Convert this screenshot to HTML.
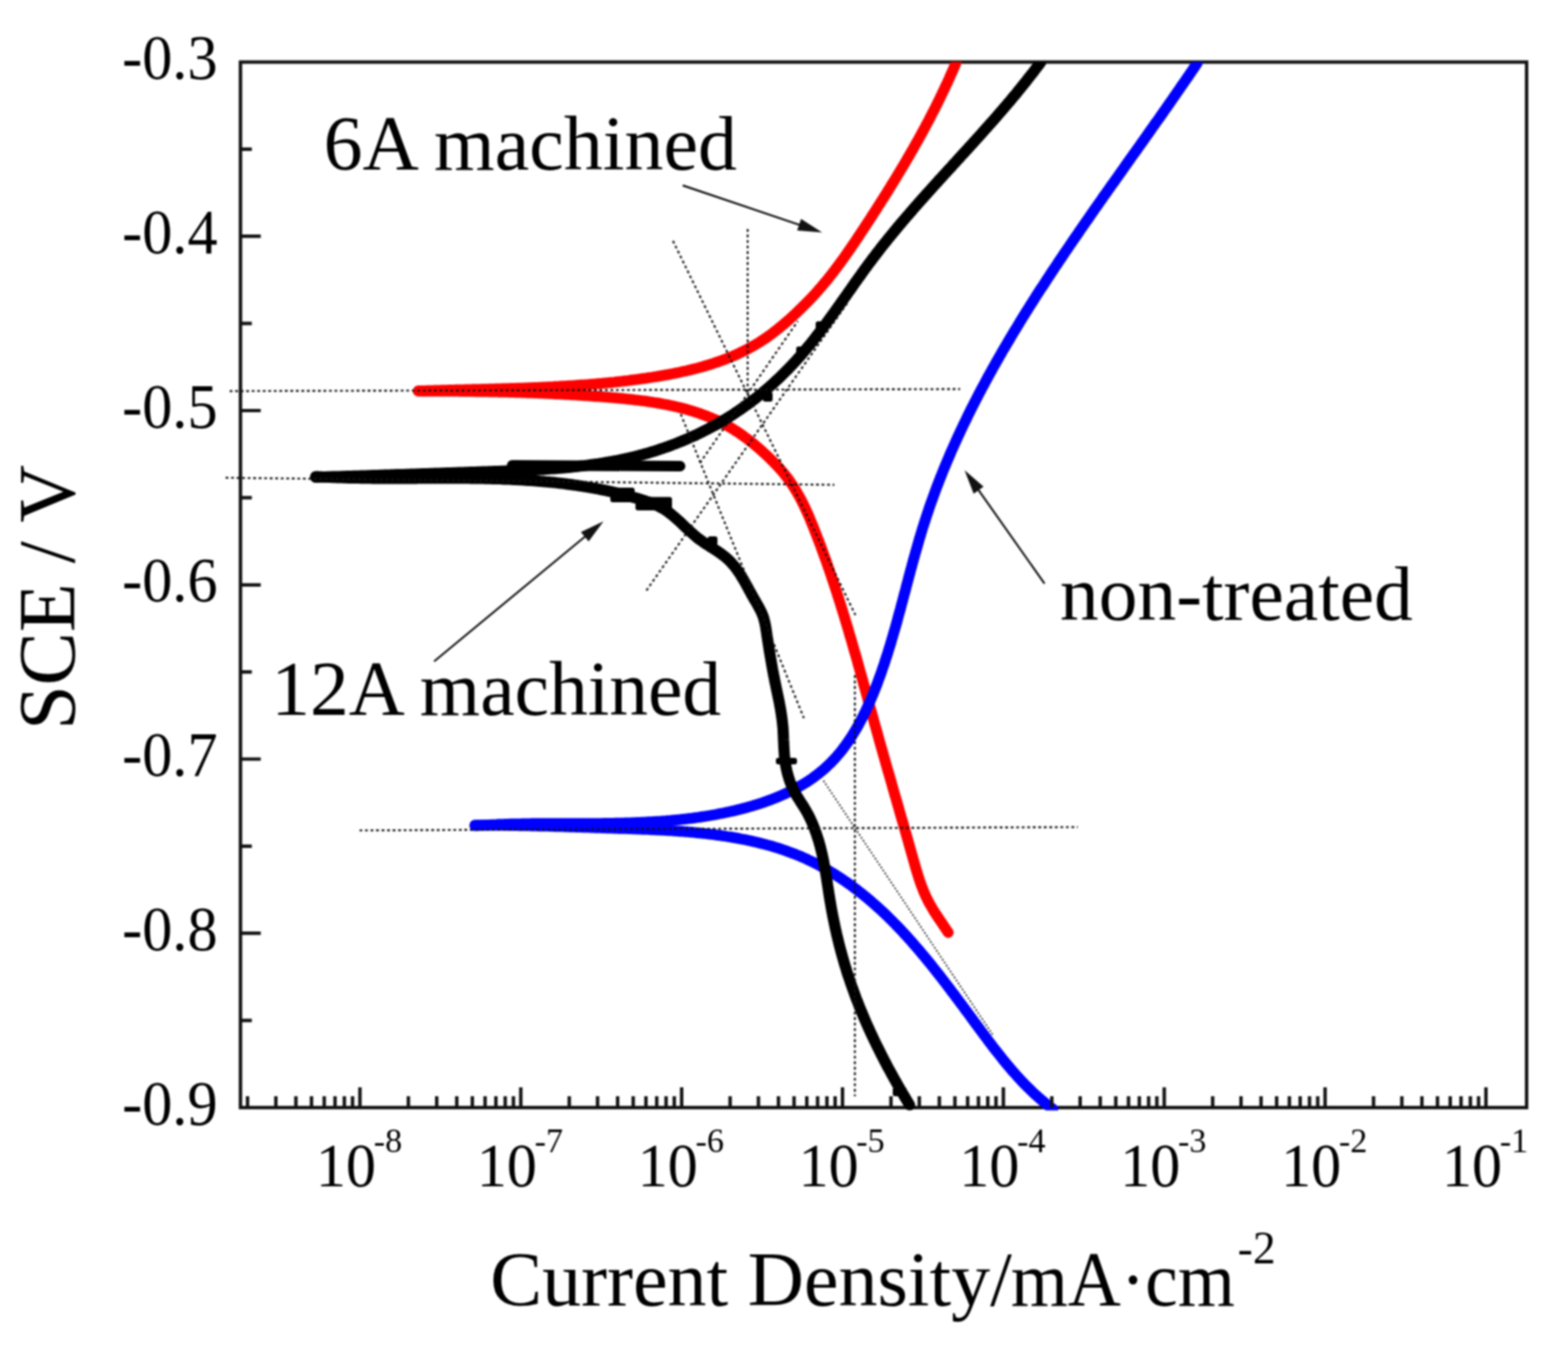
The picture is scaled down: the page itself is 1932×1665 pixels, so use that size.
<!DOCTYPE html><html><head><meta charset="utf-8"><style>html,body{margin:0;padding:0;background:#fff;overflow:hidden}svg{display:block}#w{filter:blur(0.8px)}</style></head><body><div id="w"><svg width="1932" height="1665" viewBox="0 0 1932 1665">
<rect width="100%" height="100%" fill="#fff"/>
<defs><clipPath id="pc"><rect x="296.3" y="76.5" width="1584.7" height="1292.0"/></clipPath></defs>
<rect x="296.3" y="76.5" width="1584.7" height="1288.5" fill="none" stroke="#111" stroke-width="4.2"/>
<g clip-path="url(#pc)" fill="none" stroke-linecap="round" stroke-linejoin="round">
<path d="M515.5,481.9 L518.4,481.8 L521.3,481.7 L524.2,481.6 L527.1,481.5 L530.0,481.4 L533.0,481.3 L535.9,481.2 L538.8,481.2 L541.7,481.1 L544.6,481.0 L547.5,480.9 L550.4,480.8 L553.4,480.7 L556.3,480.7 L559.2,480.6 L562.1,480.5 L565.0,480.4 L567.9,480.4 L570.8,480.3 L573.7,480.2 L576.7,480.1 L579.6,480.1 L582.5,480.0 L585.4,479.9 L588.3,479.8 L591.2,479.8 L594.1,479.7 L597.0,479.6 L599.9,479.6 L602.9,479.5 L605.8,479.4 L608.7,479.3 L611.6,479.2 L614.5,479.2 L617.4,479.1 L620.3,479.0 L623.2,478.9 L626.1,478.8 L629.0,478.7 L631.9,478.6 L634.9,478.6 L637.8,478.5 L640.7,478.4 L643.6,478.3 L646.5,478.2 L649.4,478.1 L652.3,477.9 L655.2,477.8 L658.1,477.7 L661.0,477.6 L663.9,477.5 L666.8,477.3 L669.7,477.2 L672.6,477.1 L675.5,476.9 L678.4,476.8 L681.4,476.7 L684.3,476.5 L687.2,476.4 L690.1,476.2 L693.0,476.0 L695.9,475.9 L698.8,475.7 L701.7,475.5 L704.6,475.3 L707.5,475.1 L710.4,474.9 L713.3,474.7 L716.2,474.5 L719.1,474.3 L722.0,474.1 L724.9,473.9 L727.8,473.6 L730.7,473.4 L733.6,473.2 L736.5,472.9 L739.4,472.6 L742.3,472.4 L745.2,472.1 L748.1,471.8 L751.0,471.5 L753.9,471.3 L756.8,471.0 L759.7,470.6 L762.6,470.3 L765.5,470.0 L768.4,469.7 L771.3,469.3 L774.2,469.0 L777.0,468.6 L779.9,468.2 L782.8,467.9 L785.7,467.5 L788.6,467.1 L791.5,466.7 L794.4,466.3 L797.3,465.9 L800.2,465.4 L803.1,465.0 L806.0,464.5 L808.9,464.1 L811.8,463.6 L814.7,463.1 L817.5,462.6 L820.4,462.1 L823.3,461.6 L826.2,461.1 L829.0,460.5 L831.9,459.9 L834.8,459.4 L837.6,458.8 L840.5,458.1 L843.4,457.5 L846.2,456.9 L849.0,456.2 L851.9,455.5 L854.7,454.8 L857.5,454.1 L860.3,453.4 L863.1,452.6 L865.9,451.8 L868.7,451.0 L871.5,450.2 L874.3,449.3 L877.0,448.5 L879.8,447.6 L882.5,446.6 L885.3,445.7 L888.0,444.7 L890.7,443.7 L893.4,442.7 L896.1,441.7 L898.8,440.6 L901.4,439.5 L904.1,438.4 L906.7,437.2 L909.3,436.0 L911.9,434.8 L914.5,433.5 L917.1,432.3 L919.7,431.0 L922.2,429.6 L924.8,428.2 L927.3,426.8 L929.8,425.4 L932.3,423.9 L934.8,422.4 L937.2,420.9 L939.6,419.3 L942.1,417.7 L944.5,416.0 L946.8,414.3 L949.2,412.6 L951.6,410.9 L953.9,409.1 L956.2,407.3 L958.5,405.5 L960.8,403.6 L963.1,401.8 L965.3,399.9 L967.6,398.0 L969.8,396.0 L972.0,394.1 L974.2,392.1 L976.4,390.1 L978.5,388.1 L980.7,386.1 L982.8,384.1 L984.9,382.0 L987.1,380.0 L989.1,377.9 L991.2,375.9 L993.3,373.8 L995.4,371.7 L997.4,369.6 L999.4,367.5 L1001.4,365.4 L1003.4,363.2 L1005.3,361.1 L1007.3,358.9 L1009.2,356.7 L1011.1,354.5 L1013.0,352.3 L1014.8,350.1 L1016.7,347.9 L1018.5,345.7 L1020.4,343.4 L1022.2,341.1 L1024.0,338.9 L1025.7,336.6 L1027.5,334.3 L1029.3,332.0 L1031.0,329.7 L1032.7,327.4 L1034.5,325.1 L1036.2,322.7 L1037.9,320.4 L1039.6,318.0 L1041.2,315.7 L1042.9,313.3 L1044.6,310.9 L1046.2,308.6 L1047.9,306.2 L1049.5,303.8 L1051.1,301.4 L1052.8,299.0 L1054.4,296.6 L1056.0,294.2 L1057.6,291.8 L1059.2,289.3 L1060.8,286.9 L1062.4,284.5 L1064.0,282.1 L1065.6,279.6 L1067.2,277.2 L1068.8,274.8 L1070.4,272.3 L1072.0,269.9 L1073.6,267.5 L1075.1,265.0 L1076.7,262.6 L1078.3,260.1 L1079.9,257.7 L1081.5,255.2 L1083.0,252.7 L1084.6,250.3 L1086.1,247.8 L1087.7,245.4 L1089.3,242.9 L1090.8,240.4 L1092.4,238.0 L1093.9,235.5 L1095.4,233.0 L1097.0,230.5 L1098.5,228.0 L1100.0,225.6 L1101.6,223.1 L1103.1,220.6 L1104.6,218.1 L1106.1,215.6 L1107.6,213.1 L1109.1,210.6 L1110.6,208.1 L1112.1,205.6 L1113.6,203.1 L1115.1,200.6 L1116.6,198.0 L1118.1,195.5 L1119.5,193.0 L1121.0,190.5 L1122.4,187.9 L1123.9,185.4 L1125.3,182.9 L1126.8,180.3 L1128.2,177.8 L1129.6,175.3 L1131.1,172.7 L1132.5,170.2 L1133.9,167.6 L1135.3,165.1 L1136.7,162.5 L1138.1,159.9 L1139.5,157.4 L1140.8,154.8 L1142.2,152.2 L1143.6,149.7 L1144.9,147.1 L1146.3,144.5 L1147.6,141.9 L1148.9,139.3 L1150.3,136.8 L1151.6,134.2 L1152.9,131.6 L1154.2,129.0 L1155.5,126.4 L1156.8,123.7 L1158.1,121.1 L1159.3,118.5 L1160.6,115.9 L1161.8,113.3 L1163.1,110.7 L1164.3,108.0 L1165.5,105.4 L1166.8,102.8 L1168.0,100.1 L1169.2,97.5 L1170.4,94.8 L1171.5,92.2 L1172.7,89.5 L1173.9,86.9 L1175.0,84.2 L1176.2,81.6 L1177.3,78.9 L1178.4,76.2" stroke="#f00" stroke-width="13.3"/>
<path d="M515.3,481.9 L518.3,481.9 L521.3,482.0 L524.3,482.0 L527.2,482.0 L530.2,482.0 L533.2,482.0 L536.1,482.0 L539.1,482.0 L542.0,482.0 L545.0,482.1 L547.9,482.1 L550.9,482.1 L553.8,482.1 L556.8,482.2 L559.7,482.2 L562.7,482.2 L565.6,482.2 L568.5,482.3 L571.5,482.3 L574.4,482.3 L577.3,482.4 L580.3,482.4 L583.2,482.4 L586.1,482.5 L589.0,482.5 L592.0,482.6 L594.9,482.6 L597.8,482.7 L600.7,482.7 L603.7,482.8 L606.6,482.8 L609.5,482.9 L612.4,482.9 L615.3,483.0 L618.3,483.1 L621.2,483.1 L624.1,483.2 L627.0,483.3 L629.9,483.4 L632.8,483.4 L635.7,483.5 L638.7,483.6 L641.6,483.7 L644.5,483.8 L647.4,483.9 L650.3,484.0 L653.2,484.1 L656.1,484.2 L659.0,484.3 L662.0,484.4 L664.9,484.5 L667.8,484.7 L670.7,484.8 L673.6,484.9 L676.5,485.0 L679.4,485.2 L682.4,485.3 L685.3,485.5 L688.2,485.6 L691.1,485.7 L694.0,485.9 L696.9,486.1 L699.9,486.2 L702.8,486.4 L705.7,486.6 L708.6,486.7 L711.6,486.9 L714.5,487.1 L717.4,487.3 L720.4,487.5 L723.3,487.7 L726.2,487.9 L729.2,488.1 L732.1,488.3 L735.0,488.5 L738.0,488.7 L740.9,488.9 L743.9,489.2 L746.8,489.4 L749.7,489.6 L752.7,489.9 L755.6,490.1 L758.6,490.4 L761.6,490.7 L764.5,490.9 L767.5,491.2 L770.4,491.5 L773.4,491.8 L776.3,492.1 L779.3,492.4 L782.2,492.8 L785.2,493.1 L788.1,493.5 L791.1,493.9 L794.0,494.2 L796.9,494.6 L799.9,495.1 L802.8,495.5 L805.7,496.0 L808.6,496.4 L811.5,496.9 L814.4,497.4 L817.3,498.0 L820.2,498.5 L823.1,499.1 L826.0,499.7 L828.9,500.3 L831.7,500.9 L834.6,501.6 L837.4,502.3 L840.2,503.0 L843.1,503.7 L845.9,504.5 L848.7,505.3 L851.5,506.1 L854.2,507.0 L857.0,507.9 L859.7,508.8 L862.5,509.7 L865.2,510.7 L867.9,511.7 L870.6,512.7 L873.3,513.8 L876.0,514.9 L878.6,516.0 L881.3,517.2 L883.9,518.4 L886.5,519.7 L889.1,521.0 L891.7,522.3 L894.2,523.7 L896.8,525.1 L899.3,526.5 L901.8,528.0 L904.3,529.5 L906.7,531.1 L909.2,532.7 L911.6,534.3 L914.0,536.0 L916.4,537.7 L918.8,539.5 L921.1,541.2 L923.5,543.0 L925.8,544.8 L928.1,546.7 L930.4,548.6 L932.6,550.5 L934.9,552.4 L937.1,554.4 L939.3,556.3 L941.5,558.3 L943.7,560.3 L945.8,562.4 L948.0,564.4 L950.1,566.5 L952.2,568.6 L954.3,570.7 L956.3,572.8 L958.3,575.0 L960.3,577.1 L962.3,579.3 L964.2,581.5 L966.1,583.8 L967.9,586.1 L969.7,588.4 L971.5,590.7 L973.2,593.1 L974.8,595.5 L976.5,597.9 L978.0,600.3 L979.6,602.8 L981.1,605.3 L982.5,607.8 L984.0,610.3 L985.4,612.9 L986.8,615.5 L988.1,618.0 L989.4,620.7 L990.7,623.3 L991.9,625.9 L993.2,628.6 L994.4,631.3 L995.6,633.9 L996.8,636.6 L997.9,639.3 L999.0,642.0 L1000.2,644.8 L1001.3,647.5 L1002.4,650.2 L1003.5,652.9 L1004.5,655.7 L1005.6,658.4 L1006.7,661.2 L1007.7,663.9 L1008.8,666.6 L1009.8,669.4 L1010.9,672.1 L1011.9,674.9 L1012.9,677.6 L1013.9,680.4 L1014.9,683.2 L1015.9,685.9 L1016.9,688.7 L1017.9,691.4 L1018.9,694.2 L1019.8,697.0 L1020.8,699.8 L1021.8,702.5 L1022.7,705.3 L1023.7,708.1 L1024.6,710.8 L1025.5,713.6 L1026.5,716.4 L1027.4,719.2 L1028.3,722.0 L1029.2,724.8 L1030.1,727.5 L1031.0,730.3 L1031.9,733.1 L1032.8,735.9 L1033.7,738.7 L1034.6,741.5 L1035.5,744.3 L1036.3,747.1 L1037.2,749.9 L1038.1,752.7 L1038.9,755.5 L1039.8,758.3 L1040.7,761.1 L1041.5,763.9 L1042.3,766.7 L1043.2,769.5 L1044.0,772.3 L1044.9,775.1 L1045.7,778.0 L1046.5,780.8 L1047.3,783.6 L1048.2,786.4 L1049.0,789.2 L1049.8,792.0 L1050.6,794.8 L1051.4,797.6 L1052.2,800.5 L1053.0,803.3 L1053.9,806.1 L1054.7,808.9 L1055.5,811.7 L1056.3,814.6 L1057.0,817.4 L1057.8,820.2 L1058.6,823.0 L1059.4,825.9 L1060.2,828.7 L1061.0,831.5 L1061.8,834.3 L1062.6,837.1 L1063.4,840.0 L1064.1,842.8 L1064.9,845.6 L1065.7,848.4 L1066.5,851.3 L1067.3,854.1 L1068.1,856.9 L1068.8,859.8 L1069.6,862.6 L1070.4,865.4 L1071.2,868.2 L1072.0,871.1 L1072.7,873.9 L1073.5,876.7 L1074.3,879.5 L1075.1,882.4 L1075.9,885.2 L1076.6,888.0 L1077.4,890.8 L1078.2,893.7 L1079.0,896.5 L1079.8,899.3 L1080.6,902.1 L1081.4,905.0 L1082.2,907.8 L1082.9,910.6 L1083.7,913.4 L1084.5,916.3 L1085.3,919.1 L1086.1,921.9 L1086.9,924.7 L1087.7,927.6 L1088.5,930.4 L1089.3,933.2 L1090.1,936.0 L1090.9,938.8 L1091.7,941.7 L1092.5,944.5 L1093.3,947.3 L1094.1,950.1 L1095.0,952.9 L1095.8,955.8 L1096.6,958.6 L1097.4,961.4 L1098.2,964.2 L1099.0,967.0 L1099.8,969.9 L1100.6,972.7 L1101.4,975.5 L1102.2,978.3 L1103.0,981.1 L1103.9,984.0 L1104.7,986.8 L1105.5,989.6 L1106.3,992.4 L1107.1,995.2 L1107.9,998.0 L1108.7,1000.9 L1109.5,1003.7 L1110.3,1006.5 L1111.1,1009.3 L1112.0,1012.1 L1112.8,1015.0 L1113.6,1017.8 L1114.4,1020.6 L1115.2,1023.4 L1116.0,1026.2 L1116.8,1029.1 L1117.6,1031.9 L1118.4,1034.7 L1119.2,1037.5 L1120.0,1040.4 L1120.8,1043.2 L1121.6,1046.0 L1122.4,1048.8 L1123.2,1051.6 L1124.0,1054.5 L1124.8,1057.3 L1125.6,1060.1 L1126.4,1062.9 L1127.2,1065.8 L1128.0,1068.6 L1128.8,1071.4 L1129.7,1074.2 L1130.5,1077.0 L1131.4,1079.8 L1132.3,1082.6 L1133.2,1085.4 L1134.2,1088.1 L1135.1,1090.9 L1136.2,1093.6 L1137.2,1096.3 L1138.3,1099.0 L1139.5,1101.7 L1140.6,1104.3 L1141.9,1106.9 L1143.2,1109.6 L1144.5,1112.1 L1145.9,1114.7 L1147.4,1117.2 L1148.9,1119.8 L1150.4,1122.3 L1152.0,1124.8 L1153.6,1127.2 L1155.2,1129.7 L1156.9,1132.2 L1158.5,1134.6 L1160.2,1137.1 L1161.8,1139.5 L1163.5,1142.0 L1165.1,1144.4 L1166.8,1146.9 L1168.4,1149.3" stroke="#f00" stroke-width="13.3"/>
<path d="M585.3,1017.7 L588.2,1017.5 L591.1,1017.3 L594.1,1017.1 L597.0,1016.9 L599.9,1016.8 L602.8,1016.6 L605.8,1016.4 L608.7,1016.3 L611.6,1016.2 L614.5,1016.0 L617.5,1015.9 L620.4,1015.8 L623.3,1015.7 L626.2,1015.6 L629.2,1015.5 L632.1,1015.5 L635.0,1015.4 L638.0,1015.3 L640.9,1015.3 L643.8,1015.2 L646.8,1015.2 L649.7,1015.1 L652.6,1015.1 L655.6,1015.0 L658.5,1015.0 L661.4,1015.0 L664.4,1015.0 L667.3,1014.9 L670.3,1014.9 L673.2,1014.9 L676.1,1014.9 L679.1,1014.9 L682.0,1014.9 L685.0,1014.9 L687.9,1014.9 L690.8,1014.9 L693.8,1014.9 L696.7,1014.9 L699.7,1014.9 L702.6,1014.9 L705.6,1014.9 L708.5,1014.9 L711.4,1014.9 L714.4,1014.9 L717.3,1014.9 L720.3,1014.9 L723.2,1014.9 L726.2,1014.8 L729.1,1014.8 L732.1,1014.8 L735.0,1014.8 L738.0,1014.8 L740.9,1014.8 L743.9,1014.7 L746.8,1014.7 L749.8,1014.7 L752.7,1014.6 L755.7,1014.6 L758.6,1014.5 L761.6,1014.5 L764.5,1014.4 L767.5,1014.3 L770.4,1014.2 L773.4,1014.2 L776.3,1014.1 L779.3,1014.0 L782.2,1013.9 L785.2,1013.7 L788.1,1013.6 L791.1,1013.5 L794.0,1013.4 L797.0,1013.2 L799.9,1013.0 L802.9,1012.9 L805.8,1012.7 L808.8,1012.5 L811.7,1012.3 L814.7,1012.1 L817.6,1011.9 L820.6,1011.7 L823.6,1011.4 L826.5,1011.2 L829.5,1010.9 L832.4,1010.6 L835.4,1010.3 L838.3,1010.0 L841.3,1009.7 L844.2,1009.4 L847.2,1009.0 L850.1,1008.6 L853.1,1008.3 L856.0,1007.9 L859.0,1007.5 L861.9,1007.1 L864.9,1006.6 L867.9,1006.2 L870.8,1005.7 L873.8,1005.2 L876.7,1004.7 L879.7,1004.2 L882.6,1003.7 L885.6,1003.1 L888.5,1002.5 L891.5,1001.9 L894.4,1001.3 L897.4,1000.7 L900.3,1000.1 L903.3,999.4 L906.2,998.7 L909.1,998.0 L912.1,997.3 L915.0,996.5 L917.9,995.8 L920.8,995.0 L923.7,994.1 L926.6,993.3 L929.5,992.4 L932.3,991.6 L935.2,990.7 L938.1,989.7 L940.9,988.8 L943.7,987.8 L946.5,986.8 L949.3,985.7 L952.1,984.7 L954.8,983.6 L957.6,982.5 L960.3,981.3 L963.0,980.2 L965.7,979.0 L968.4,977.7 L971.0,976.5 L973.7,975.2 L976.3,973.9 L978.9,972.6 L981.4,971.2 L984.0,969.8 L986.5,968.3 L989.0,966.9 L991.4,965.4 L993.9,963.8 L996.3,962.3 L998.7,960.7 L1001.0,959.1 L1003.3,957.4 L1005.6,955.7 L1007.9,954.0 L1010.1,952.2 L1012.3,950.4 L1014.5,948.6 L1016.6,946.7 L1018.7,944.8 L1020.8,942.8 L1022.8,940.9 L1024.8,938.8 L1026.8,936.8 L1028.7,934.7 L1030.6,932.6 L1032.4,930.4 L1034.3,928.3 L1036.1,926.1 L1037.9,923.8 L1039.6,921.5 L1041.3,919.3 L1043.0,916.9 L1044.6,914.6 L1046.3,912.2 L1047.9,909.8 L1049.4,907.4 L1051.0,904.9 L1052.5,902.4 L1054.0,900.0 L1055.5,897.4 L1056.9,894.9 L1058.3,892.3 L1059.7,889.8 L1061.1,887.2 L1062.5,884.6 L1063.8,881.9 L1065.1,879.3 L1066.4,876.6 L1067.7,873.9 L1068.9,871.2 L1070.1,868.5 L1071.3,865.8 L1072.5,863.1 L1073.7,860.4 L1074.8,857.6 L1076.0,854.8 L1077.1,852.1 L1078.2,849.3 L1079.3,846.5 L1080.4,843.7 L1081.4,840.9 L1082.4,838.1 L1083.5,835.3 L1084.5,832.5 L1085.5,829.7 L1086.5,826.9 L1087.4,824.0 L1088.4,821.2 L1089.4,818.4 L1090.3,815.6 L1091.2,812.7 L1092.1,809.9 L1093.1,807.0 L1094.0,804.2 L1094.8,801.4 L1095.7,798.5 L1096.6,795.7 L1097.5,792.8 L1098.3,790.0 L1099.1,787.1 L1100.0,784.2 L1100.8,781.4 L1101.6,778.5 L1102.5,775.7 L1103.3,772.8 L1104.1,769.9 L1104.9,767.1 L1105.7,764.2 L1106.4,761.3 L1107.2,758.5 L1108.0,755.6 L1108.8,752.7 L1109.6,749.9 L1110.3,747.0 L1111.1,744.1 L1111.9,741.2 L1112.6,738.4 L1113.4,735.5 L1114.1,732.6 L1114.9,729.8 L1115.7,726.9 L1116.4,724.0 L1117.2,721.1 L1117.9,718.3 L1118.7,715.4 L1119.4,712.5 L1120.2,709.7 L1121.0,706.8 L1121.7,704.0 L1122.5,701.1 L1123.3,698.2 L1124.0,695.4 L1124.8,692.5 L1125.6,689.7 L1126.4,686.8 L1127.2,684.0 L1128.0,681.1 L1128.8,678.3 L1129.6,675.4 L1130.4,672.6 L1131.2,669.8 L1132.0,666.9 L1132.8,664.1 L1133.7,661.3 L1134.5,658.5 L1135.4,655.6 L1136.2,652.8 L1137.1,650.0 L1138.0,647.2 L1138.9,644.4 L1139.8,641.6 L1140.7,638.8 L1141.6,636.0 L1142.5,633.2 L1143.5,630.4 L1144.4,627.6 L1145.3,624.9 L1146.3,622.1 L1147.3,619.3 L1148.3,616.6 L1149.3,613.8 L1150.3,611.0 L1151.3,608.3 L1152.3,605.5 L1153.3,602.8 L1154.3,600.0 L1155.4,597.3 L1156.4,594.6 L1157.5,591.8 L1158.6,589.1 L1159.6,586.4 L1160.7,583.7 L1161.8,580.9 L1162.9,578.2 L1164.0,575.5 L1165.2,572.8 L1166.3,570.1 L1167.4,567.4 L1168.6,564.7 L1169.7,562.0 L1170.9,559.3 L1172.0,556.6 L1173.2,553.9 L1174.4,551.3 L1175.6,548.6 L1176.8,545.9 L1178.0,543.2 L1179.2,540.6 L1180.4,537.9 L1181.7,535.2 L1182.9,532.6 L1184.1,529.9 L1185.4,527.3 L1186.6,524.6 L1187.9,522.0 L1189.2,519.3 L1190.5,516.7 L1191.7,514.1 L1193.0,511.4 L1194.3,508.8 L1195.6,506.2 L1196.9,503.5 L1198.3,500.9 L1199.6,498.3 L1200.9,495.7 L1202.3,493.1 L1203.6,490.5 L1205.0,487.8 L1206.3,485.2 L1207.7,482.6 L1209.1,480.0 L1210.4,477.4 L1211.8,474.9 L1213.2,472.3 L1214.6,469.7 L1216.0,467.1 L1217.4,464.5 L1218.8,461.9 L1220.2,459.4 L1221.7,456.8 L1223.1,454.2 L1224.5,451.6 L1226.0,449.1 L1227.4,446.5 L1228.9,443.9 L1230.3,441.4 L1231.8,438.8 L1233.3,436.3 L1234.7,433.7 L1236.2,431.2 L1237.7,428.6 L1239.2,426.1 L1240.7,423.5 L1242.2,421.0 L1243.7,418.5 L1245.2,415.9 L1246.7,413.4 L1248.2,410.9 L1249.7,408.3 L1251.3,405.8 L1252.8,403.3 L1254.3,400.8 L1255.9,398.2 L1257.4,395.7 L1259.0,393.2 L1260.5,390.7 L1262.1,388.2 L1263.6,385.7 L1265.2,383.2 L1266.8,380.7 L1268.3,378.2 L1269.9,375.7 L1271.5,373.2 L1273.1,370.7 L1274.7,368.2 L1276.2,365.7 L1277.8,363.2 L1279.4,360.7 L1281.0,358.2 L1282.6,355.7 L1284.3,353.3 L1285.9,350.8 L1287.5,348.3 L1289.1,345.8 L1290.7,343.3 L1292.4,340.9 L1294.0,338.4 L1295.6,335.9 L1297.2,333.5 L1298.9,331.0 L1300.5,328.5 L1302.2,326.1 L1303.8,323.6 L1305.5,321.1 L1307.1,318.7 L1308.8,316.2 L1310.4,313.8 L1312.1,311.3 L1313.7,308.9 L1315.4,306.4 L1317.1,304.0 L1318.7,301.5 L1320.4,299.1 L1322.1,296.6 L1323.7,294.2 L1325.4,291.7 L1327.1,289.3 L1328.8,286.9 L1330.4,284.4 L1332.1,282.0 L1333.8,279.5 L1335.5,277.1 L1337.2,274.7 L1338.9,272.2 L1340.6,269.8 L1342.3,267.4 L1343.9,265.0 L1345.6,262.5 L1347.3,260.1 L1349.0,257.7 L1350.7,255.2 L1352.4,252.8 L1354.1,250.4 L1355.8,248.0 L1357.5,245.6 L1359.2,243.1 L1360.9,240.7 L1362.6,238.3 L1364.3,235.9 L1366.0,233.5 L1367.7,231.1 L1369.4,228.6 L1371.2,226.2 L1372.9,223.8 L1374.6,221.4 L1376.3,219.0 L1378.0,216.6 L1379.7,214.2 L1381.4,211.8 L1383.1,209.4 L1384.8,207.0 L1386.5,204.5 L1388.2,202.1 L1389.9,199.7 L1391.6,197.3 L1393.3,194.9 L1395.0,192.5 L1396.7,190.1 L1398.5,187.7 L1400.2,185.3 L1401.9,182.9 L1403.6,180.5 L1405.3,178.1 L1407.0,175.7 L1408.7,173.3 L1410.4,170.9 L1412.1,168.5 L1413.8,166.1 L1415.5,163.7 L1417.1,161.3 L1418.8,158.9 L1420.5,156.5 L1422.2,154.1 L1423.9,151.7 L1425.6,149.4 L1427.3,147.0 L1429.0,144.6 L1430.7,142.2 L1432.3,139.8 L1434.0,137.4 L1435.7,135.0 L1437.4,132.6 L1439.1,130.2 L1440.7,127.8 L1442.4,125.4 L1444.1,123.0 L1445.7,120.6 L1447.4,118.2 L1449.1,115.8 L1450.7,113.4 L1452.4,111.0 L1454.0,108.6 L1455.7,106.2 L1457.3,103.9 L1459.0,101.5 L1460.6,99.1 L1462.3,96.7 L1463.9,94.3 L1465.6,91.9 L1467.2,89.5 L1468.8,87.1 L1470.5,84.7 L1472.1,82.3 L1473.7,79.9 L1475.3,77.5" stroke="#00f" stroke-width="13.3"/>
<path d="M585.0,1017.0 L587.9,1017.0 L590.8,1017.0 L593.8,1017.0 L596.7,1017.0 L599.6,1017.0 L602.5,1017.0 L605.4,1017.1 L608.4,1017.1 L611.3,1017.1 L614.2,1017.1 L617.1,1017.2 L620.0,1017.2 L622.9,1017.2 L625.8,1017.3 L628.8,1017.3 L631.7,1017.3 L634.6,1017.4 L637.5,1017.4 L640.4,1017.5 L643.3,1017.5 L646.2,1017.6 L649.1,1017.6 L652.0,1017.7 L654.9,1017.8 L657.8,1017.8 L660.8,1017.9 L663.7,1018.0 L666.6,1018.0 L669.5,1018.1 L672.4,1018.2 L675.3,1018.2 L678.2,1018.3 L681.1,1018.4 L684.0,1018.5 L686.9,1018.6 L689.8,1018.6 L692.7,1018.7 L695.6,1018.8 L698.5,1018.9 L701.4,1019.0 L704.3,1019.1 L707.2,1019.2 L710.2,1019.3 L713.1,1019.3 L716.0,1019.4 L718.9,1019.5 L721.8,1019.6 L724.7,1019.7 L727.6,1019.8 L730.5,1019.9 L733.4,1020.0 L736.3,1020.1 L739.2,1020.2 L742.1,1020.3 L745.1,1020.4 L748.0,1020.5 L750.9,1020.6 L753.8,1020.7 L756.7,1020.8 L759.6,1020.9 L762.5,1021.0 L765.4,1021.0 L768.4,1021.1 L771.3,1021.2 L774.2,1021.3 L777.1,1021.4 L780.0,1021.5 L782.9,1021.6 L785.9,1021.8 L788.8,1021.9 L791.7,1022.0 L794.6,1022.1 L797.5,1022.2 L800.4,1022.3 L803.4,1022.5 L806.3,1022.6 L809.2,1022.8 L812.1,1022.9 L815.0,1023.1 L817.9,1023.2 L820.8,1023.4 L823.8,1023.5 L826.7,1023.7 L829.6,1023.9 L832.5,1024.1 L835.4,1024.3 L838.3,1024.5 L841.2,1024.7 L844.1,1025.0 L847.0,1025.2 L849.9,1025.5 L852.8,1025.7 L855.7,1026.0 L858.6,1026.3 L861.5,1026.5 L864.4,1026.8 L867.3,1027.2 L870.2,1027.5 L873.1,1027.8 L876.0,1028.2 L878.9,1028.5 L881.8,1028.9 L884.7,1029.3 L887.6,1029.7 L890.5,1030.1 L893.3,1030.5 L896.2,1031.0 L899.1,1031.4 L902.0,1031.9 L904.8,1032.4 L907.7,1032.9 L910.6,1033.4 L913.4,1034.0 L916.3,1034.5 L919.2,1035.1 L922.0,1035.7 L924.9,1036.3 L927.7,1037.0 L930.5,1037.6 L933.4,1038.3 L936.2,1039.0 L939.0,1039.7 L941.8,1040.4 L944.7,1041.2 L947.5,1041.9 L950.3,1042.7 L953.0,1043.5 L955.8,1044.4 L958.6,1045.2 L961.4,1046.1 L964.1,1047.0 L966.9,1048.0 L969.6,1048.9 L972.3,1049.9 L975.0,1050.9 L977.8,1052.0 L980.5,1053.0 L983.1,1054.1 L985.8,1055.2 L988.5,1056.4 L991.1,1057.5 L993.8,1058.7 L996.4,1060.0 L999.0,1061.2 L1001.7,1062.5 L1004.3,1063.8 L1006.8,1065.1 L1009.4,1066.5 L1012.0,1067.9 L1014.5,1069.3 L1017.0,1070.7 L1019.6,1072.2 L1022.1,1073.7 L1024.6,1075.2 L1027.1,1076.7 L1029.5,1078.2 L1032.0,1079.8 L1034.4,1081.4 L1036.9,1083.0 L1039.3,1084.7 L1041.7,1086.3 L1044.1,1088.0 L1046.4,1089.7 L1048.8,1091.4 L1051.1,1093.1 L1053.5,1094.9 L1055.8,1096.6 L1058.1,1098.4 L1060.4,1100.2 L1062.7,1102.0 L1064.9,1103.8 L1067.2,1105.7 L1069.4,1107.5 L1071.6,1109.4 L1073.8,1111.3 L1076.0,1113.2 L1078.2,1115.1 L1080.3,1117.0 L1082.5,1119.0 L1084.6,1120.9 L1086.8,1122.9 L1088.9,1124.9 L1091.0,1126.9 L1093.1,1128.9 L1095.1,1130.9 L1097.2,1133.0 L1099.3,1135.0 L1101.3,1137.1 L1103.3,1139.1 L1105.3,1141.2 L1107.4,1143.3 L1109.4,1145.4 L1111.4,1147.5 L1113.3,1149.7 L1115.3,1151.8 L1117.3,1153.9 L1119.2,1156.1 L1121.2,1158.3 L1123.1,1160.4 L1125.0,1162.6 L1126.9,1164.8 L1128.8,1167.0 L1130.7,1169.2 L1132.6,1171.4 L1134.5,1173.6 L1136.4,1175.9 L1138.3,1178.1 L1140.1,1180.4 L1142.0,1182.6 L1143.8,1184.9 L1145.7,1187.1 L1147.5,1189.4 L1149.3,1191.7 L1151.2,1194.0 L1153.0,1196.3 L1154.8,1198.6 L1156.6,1200.9 L1158.4,1203.2 L1160.2,1205.5 L1162.0,1207.8 L1163.8,1210.1 L1165.5,1212.4 L1167.3,1214.8 L1169.1,1217.1 L1170.9,1219.4 L1172.6,1221.8 L1174.4,1224.1 L1176.2,1226.4 L1177.9,1228.8 L1179.7,1231.1 L1181.4,1233.5 L1183.2,1235.8 L1184.9,1238.2 L1186.7,1240.5 L1188.4,1242.9 L1190.1,1245.2 L1191.9,1247.6 L1193.6,1249.9 L1195.4,1252.3 L1197.1,1254.7 L1198.8,1257.0 L1200.6,1259.4 L1202.3,1261.7 L1204.0,1264.1 L1205.8,1266.4 L1207.5,1268.8 L1209.2,1271.1 L1211.0,1273.5 L1212.7,1275.8 L1214.5,1278.1 L1216.2,1280.5 L1217.9,1282.8 L1219.7,1285.1 L1221.5,1287.5 L1223.2,1289.8 L1225.0,1292.1 L1226.8,1294.4 L1228.6,1296.7 L1230.4,1298.9 L1232.2,1301.2 L1234.0,1303.5 L1235.8,1305.8 L1237.6,1308.0 L1239.4,1310.2 L1241.3,1312.5 L1243.2,1314.7 L1245.0,1316.9 L1246.9,1319.1 L1248.8,1321.3 L1250.7,1323.4 L1252.7,1325.6 L1254.6,1327.7 L1256.6,1329.9 L1258.5,1332.0 L1260.5,1334.1 L1262.5,1336.2 L1264.6,1338.2 L1266.6,1340.3 L1268.7,1342.3 L1270.7,1344.3 L1272.8,1346.3 L1275.0,1348.3 L1277.1,1350.2 L1279.3,1352.2 L1281.5,1354.1 L1283.7,1356.0 L1285.9,1357.9 L1288.1,1359.7 L1290.4,1361.6 L1292.7,1363.4 L1295.1,1365.2 L1297.4,1366.9" stroke="#00f" stroke-width="13.3"/>
<path d="M389.0,588.1 L392.0,588.0 L394.9,587.9 L397.8,587.9 L400.8,587.8 L403.7,587.7 L406.7,587.6 L409.6,587.5 L412.5,587.4 L415.5,587.4 L418.4,587.3 L421.3,587.2 L424.3,587.1 L427.2,587.0 L430.1,586.9 L433.1,586.8 L436.0,586.7 L438.9,586.6 L441.9,586.6 L444.8,586.5 L447.7,586.4 L450.7,586.3 L453.6,586.2 L456.5,586.1 L459.4,586.0 L462.4,585.9 L465.3,585.8 L468.2,585.7 L471.2,585.6 L474.1,585.5 L477.0,585.4 L480.0,585.3 L482.9,585.2 L485.8,585.1 L488.7,585.0 L491.7,584.9 L494.6,584.8 L497.5,584.8 L500.5,584.7 L503.4,584.6 L506.3,584.5 L509.3,584.4 L512.2,584.3 L515.1,584.2 L518.0,584.1 L521.0,584.0 L523.9,583.9 L526.8,583.8 L529.8,583.7 L532.7,583.6 L535.6,583.5 L538.6,583.4 L541.5,583.3 L544.4,583.2 L547.4,583.1 L550.3,583.0 L553.2,582.9 L556.2,582.8 L559.1,582.7 L562.0,582.6 L565.0,582.5 L567.9,582.4 L570.8,582.3 L573.8,582.2 L576.7,582.1 L579.6,582.0 L582.6,581.9 L585.5,581.8 L588.4,581.7 L591.4,581.6 L594.3,581.5 L597.3,581.4 L600.2,581.3 L603.1,581.2 L606.1,581.1 L609.0,581.0 L612.0,580.9 L614.9,580.8 L617.8,580.7 L620.8,580.6 L623.7,580.5 L626.7,580.4 L629.6,580.3 L632.6,580.2 L635.5,580.0 L638.4,579.9 L641.4,579.8 L644.3,579.7 L647.3,579.5 L650.2,579.4 L653.1,579.3 L656.1,579.1 L659.0,579.0 L661.9,578.8 L664.9,578.6 L667.8,578.5 L670.7,578.3 L673.7,578.1 L676.6,577.9 L679.5,577.7 L682.5,577.5 L685.4,577.3 L688.3,577.0 L691.2,576.8 L694.2,576.6 L697.1,576.3 L700.0,576.0 L702.9,575.8 L705.8,575.5 L708.7,575.2 L711.6,574.9 L714.5,574.5 L717.4,574.2 L720.3,573.9 L723.2,573.5 L726.1,573.1 L729.0,572.7 L731.9,572.3 L734.8,571.9 L737.7,571.5 L740.6,571.0 L743.5,570.6 L746.3,570.1 L749.2,569.6 L752.1,569.1 L755.0,568.6 L757.8,568.0 L760.7,567.5 L763.5,566.9 L766.4,566.3 L769.3,565.7 L772.1,565.1 L774.9,564.4 L777.8,563.8 L780.6,563.1 L783.4,562.4 L786.3,561.7 L789.1,560.9 L791.9,560.2 L794.7,559.4 L797.5,558.6 L800.3,557.8 L803.1,556.9 L805.9,556.1 L808.7,555.2 L811.5,554.3 L814.3,553.3 L817.1,552.4 L819.8,551.4 L822.6,550.5 L825.3,549.5 L828.1,548.4 L830.8,547.4 L833.6,546.3 L836.3,545.2 L839.0,544.1 L841.7,543.0 L844.4,541.9 L847.1,540.7 L849.8,539.5 L852.5,538.3 L855.2,537.1 L857.8,535.9 L860.5,534.6 L863.1,533.3 L865.8,532.0 L868.4,530.7 L871.0,529.4 L873.6,528.0 L876.2,526.6 L878.8,525.2 L881.4,523.8 L883.9,522.4 L886.5,520.9 L889.0,519.4 L891.5,517.9 L894.1,516.4 L896.6,514.9 L899.0,513.3 L901.5,511.8 L904.0,510.2 L906.4,508.6 L908.9,506.9 L911.3,505.3 L913.7,503.6 L916.1,501.9 L918.5,500.2 L920.9,498.5 L923.2,496.8 L925.6,495.0 L927.9,493.3 L930.2,491.5 L932.5,489.7 L934.8,487.8 L937.1,486.0 L939.3,484.1 L941.6,482.3 L943.8,480.4 L946.0,478.5 L948.2,476.6 L950.4,474.6 L952.6,472.7 L954.7,470.7 L956.9,468.7 L959.0,466.7 L961.1,464.7 L963.2,462.7 L965.3,460.6 L967.4,458.6 L969.4,456.5 L971.5,454.4 L973.5,452.3 L975.5,450.2 L977.5,448.1 L979.5,445.9 L981.5,443.8 L983.4,441.6 L985.4,439.4 L987.3,437.2 L989.2,435.0 L991.1,432.8 L993.0,430.6 L994.8,428.3 L996.7,426.1 L998.6,423.8 L1000.4,421.5 L1002.2,419.2 L1004.0,416.9 L1005.8,414.6 L1007.6,412.3 L1009.4,410.0 L1011.2,407.7 L1012.9,405.4 L1014.7,403.0 L1016.4,400.7 L1018.2,398.3 L1019.9,395.9 L1021.6,393.6 L1023.4,391.2 L1025.1,388.8 L1026.8,386.4 L1028.5,384.1 L1030.2,381.7 L1031.9,379.3 L1033.6,376.9 L1035.3,374.5 L1037.0,372.1 L1038.7,369.7 L1040.4,367.3 L1042.1,364.9 L1043.8,362.5 L1045.5,360.1 L1047.2,357.7 L1048.9,355.3 L1050.5,352.9 L1052.2,350.5 L1053.9,348.1 L1055.6,345.7 L1057.3,343.3 L1059.1,340.9 L1060.8,338.5 L1062.5,336.1 L1064.2,333.7 L1065.9,331.3 L1067.7,329.0 L1069.4,326.6 L1071.1,324.2 L1072.9,321.9 L1074.7,319.5 L1076.4,317.2 L1078.2,314.9 L1080.0,312.5 L1081.8,310.2 L1083.6,307.9 L1085.4,305.6 L1087.2,303.3 L1089.0,301.0 L1090.9,298.7 L1092.7,296.4 L1094.5,294.1 L1096.4,291.8 L1098.2,289.6 L1100.1,287.3 L1102.0,285.0 L1103.8,282.8 L1105.7,280.5 L1107.6,278.3 L1109.5,276.0 L1111.4,273.8 L1113.3,271.6 L1115.2,269.3 L1117.1,267.1 L1119.0,264.9 L1120.9,262.7 L1122.9,260.5 L1124.8,258.2 L1126.7,256.0 L1128.6,253.8 L1130.6,251.6 L1132.5,249.4 L1134.5,247.2 L1136.4,245.0 L1138.4,242.8 L1140.3,240.7 L1142.3,238.5 L1144.2,236.3 L1146.2,234.1 L1148.2,231.9 L1150.1,229.7 L1152.1,227.6 L1154.1,225.4 L1156.0,223.2 L1158.0,221.0 L1160.0,218.9 L1162.0,216.7 L1163.9,214.5 L1165.9,212.4 L1167.9,210.2 L1169.9,208.0 L1171.9,205.9 L1173.8,203.7 L1175.8,201.5 L1177.8,199.4 L1179.8,197.2 L1181.8,195.0 L1183.7,192.9 L1185.7,190.7 L1187.7,188.5 L1189.7,186.3 L1191.7,184.2 L1193.6,182.0 L1195.6,179.8 L1197.6,177.7 L1199.6,175.5 L1201.5,173.3 L1203.5,171.1 L1205.5,169.0 L1207.4,166.8 L1209.4,164.6 L1211.3,162.4 L1213.3,160.2 L1215.2,158.0 L1217.2,155.8 L1219.1,153.7 L1221.1,151.5 L1223.0,149.3 L1225.0,147.1 L1226.9,144.9 L1228.8,142.6 L1230.7,140.4 L1232.7,138.2 L1234.6,136.0 L1236.5,133.8 L1238.4,131.6 L1240.3,129.3 L1242.2,127.1 L1244.1,124.9 L1246.0,122.6 L1247.8,120.4 L1249.7,118.1 L1251.6,115.9 L1253.5,113.6 L1255.3,111.3 L1257.2,109.1 L1259.0,106.8 L1260.8,104.5 L1262.7,102.2 L1264.5,99.9 L1266.3,97.6 L1268.1,95.3 L1269.9,93.0 L1271.7,90.7 L1273.5,88.4 L1275.3,86.1 L1277.1,83.7 L1278.8,81.4 L1280.6,79.1 L1282.3,76.7" stroke="#000" stroke-width="13.8"/>
<path d="M389.1,587.3 L392.0,587.5 L394.9,587.6 L397.8,587.8 L400.8,587.9 L403.7,588.1 L406.6,588.2 L409.5,588.3 L412.5,588.4 L415.4,588.5 L418.3,588.6 L421.3,588.7 L424.2,588.8 L427.1,588.9 L430.1,589.0 L433.0,589.1 L435.9,589.1 L438.9,589.2 L441.8,589.2 L444.8,589.3 L447.7,589.3 L450.6,589.4 L453.6,589.4 L456.5,589.4 L459.5,589.5 L462.4,589.5 L465.3,589.5 L468.3,589.5 L471.2,589.5 L474.2,589.5 L477.1,589.5 L480.1,589.5 L483.0,589.5 L486.0,589.5 L488.9,589.5 L491.9,589.5 L494.8,589.5 L497.7,589.5 L500.7,589.5 L503.6,589.5 L506.6,589.5 L509.5,589.5 L512.5,589.5 L515.4,589.4 L518.4,589.4 L521.3,589.4 L524.3,589.4 L527.2,589.4 L530.2,589.4 L533.1,589.4 L536.1,589.4 L539.0,589.3 L542.0,589.3 L544.9,589.3 L547.9,589.3 L550.8,589.3 L553.8,589.3 L556.7,589.3 L559.7,589.3 L562.6,589.3 L565.6,589.4 L568.5,589.4 L571.5,589.4 L574.4,589.4 L577.4,589.4 L580.3,589.5 L583.3,589.5 L586.2,589.6 L589.2,589.6 L592.1,589.6 L595.0,589.7 L598.0,589.8 L600.9,589.8 L603.9,589.9 L606.8,590.0 L609.7,590.1 L612.7,590.1 L615.6,590.2 L618.6,590.3 L621.5,590.5 L624.4,590.6 L627.4,590.7 L630.3,590.8 L633.2,591.0 L636.2,591.1 L639.1,591.3 L642.0,591.4 L645.0,591.6 L647.9,591.8 L650.8,592.0 L653.8,592.2 L656.7,592.4 L659.6,592.6 L662.5,592.8 L665.5,593.1 L668.4,593.3 L671.3,593.6 L674.2,593.8 L677.1,594.1 L680.0,594.4 L683.0,594.7 L685.9,595.0 L688.8,595.4 L691.7,595.7 L694.6,596.0 L697.5,596.4 L700.4,596.8 L703.3,597.2 L706.2,597.6 L709.1,598.0 L712.0,598.4 L714.9,598.8 L717.8,599.3 L720.7,599.7 L723.6,600.2 L726.5,600.7 L729.4,601.2 L732.3,601.7 L735.2,602.3 L738.1,602.8 L740.9,603.4 L743.8,604.0 L746.7,604.6 L749.6,605.2 L752.4,605.8 L755.3,606.5 L758.2,607.1 L761.1,607.8 L763.9,608.5 L766.8,609.2 L769.6,609.9 L772.5,610.7 L775.4,611.5 L778.2,612.3 L781.1,613.1 L783.9,613.9 L786.8,614.7 L789.6,615.6 L792.4,616.5 L795.3,617.4 L798.1,618.4 L800.9,619.3 L803.6,620.4 L806.4,621.5 L809.1,622.7 L811.7,623.9 L814.3,625.3 L816.8,626.7 L819.3,628.2 L821.7,629.8 L824.0,631.5 L826.3,633.3 L828.6,635.1 L830.8,637.0 L833.0,638.9 L835.2,640.9 L837.4,642.8 L839.5,644.8 L841.7,646.9 L843.8,648.9 L845.9,650.9 L848.1,652.9 L850.3,655.0 L852.5,656.9 L854.7,658.9 L856.9,660.8 L859.2,662.7 L861.5,664.5 L863.9,666.2 L866.3,667.9 L868.7,669.6 L871.2,671.2 L873.7,672.8 L876.1,674.4 L878.6,675.9 L881.1,677.5 L883.5,679.1 L885.9,680.7 L888.3,682.4 L890.6,684.1 L892.9,685.9 L895.1,687.7 L897.3,689.6 L899.3,691.6 L901.3,693.7 L903.2,695.9 L905.1,698.1 L906.9,700.4 L908.6,702.8 L910.2,705.2 L911.9,707.7 L913.4,710.2 L915.0,712.7 L916.5,715.3 L918.0,717.9 L919.4,720.5 L920.9,723.2 L922.3,725.8 L923.7,728.4 L925.2,731.0 L926.6,733.7 L928.0,736.2 L929.5,738.8 L931.0,741.3 L932.5,743.9 L933.9,746.4 L935.3,748.9 L936.6,751.4 L937.9,754.0 L939.0,756.5 L940.1,759.2 L941.0,761.8 L941.7,764.6 L942.4,767.4 L943.0,770.2 L943.5,773.0 L943.9,775.9 L944.4,778.7 L944.8,781.6 L945.2,784.5 L945.7,787.4 L946.1,790.3 L946.6,793.2 L947.0,796.1 L947.5,799.0 L947.9,801.9 L948.4,804.8 L948.9,807.7 L949.4,810.6 L949.9,813.5 L950.4,816.4 L950.9,819.3 L951.4,822.2 L951.9,825.1 L952.5,827.9 L953.0,830.8 L953.6,833.7 L954.2,836.6 L954.7,839.5 L955.3,842.3 L955.9,845.2 L956.5,848.1 L957.1,850.9 L957.7,853.8 L958.3,856.6 L958.9,859.5 L959.5,862.4 L960.1,865.2 L960.6,868.1 L961.1,870.9 L961.7,873.8 L962.1,876.7 L962.6,879.6 L963.0,882.4 L963.4,885.3 L963.8,888.2 L964.1,891.1 L964.4,894.0 L964.7,896.9 L964.9,899.8 L965.0,902.8 L965.2,905.7 L965.3,908.6 L965.4,911.6 L965.6,914.5 L965.7,917.4 L965.8,920.4 L966.0,923.3 L966.2,926.2 L966.4,929.2 L966.6,932.1 L967.0,935.0 L967.3,937.9 L967.7,940.9 L968.2,943.8 L968.8,946.6 L969.4,949.5 L970.1,952.4 L970.8,955.2 L971.7,958.0 L972.5,960.8 L973.5,963.6 L974.6,966.3 L975.7,969.0 L976.9,971.6 L978.1,974.3 L979.5,976.8 L980.9,979.4 L982.3,981.8 L983.9,984.3 L985.4,986.7 L987.0,989.2 L988.6,991.6 L990.1,994.0 L991.6,996.5 L993.1,999.0 L994.5,1001.5 L995.9,1004.1 L997.2,1006.7 L998.5,1009.3 L999.7,1012.0 L1000.9,1014.6 L1002.0,1017.3 L1003.1,1020.1 L1004.1,1022.8 L1005.1,1025.5 L1006.1,1028.3 L1007.0,1031.1 L1007.9,1033.9 L1008.8,1036.7 L1009.6,1039.6 L1010.4,1042.4 L1011.1,1045.2 L1011.8,1048.1 L1012.5,1050.9 L1013.2,1053.8 L1013.8,1056.7 L1014.4,1059.5 L1015.0,1062.4 L1015.5,1065.3 L1016.1,1068.2 L1016.6,1071.1 L1017.1,1073.9 L1017.5,1076.8 L1018.0,1079.7 L1018.5,1082.6 L1018.9,1085.5 L1019.4,1088.4 L1019.8,1091.3 L1020.3,1094.2 L1020.7,1097.0 L1021.1,1099.9 L1021.6,1102.8 L1022.0,1105.7 L1022.5,1108.6 L1023.0,1111.5 L1023.5,1114.4 L1024.0,1117.3 L1024.5,1120.2 L1025.0,1123.1 L1025.6,1125.9 L1026.1,1128.8 L1026.7,1131.7 L1027.3,1134.6 L1027.9,1137.5 L1028.5,1140.4 L1029.1,1143.2 L1029.7,1146.1 L1030.4,1149.0 L1031.0,1151.8 L1031.7,1154.7 L1032.4,1157.6 L1033.1,1160.4 L1033.8,1163.3 L1034.5,1166.1 L1035.3,1169.0 L1036.0,1171.8 L1036.8,1174.7 L1037.6,1177.5 L1038.4,1180.3 L1039.2,1183.2 L1040.0,1186.0 L1040.8,1188.8 L1041.7,1191.6 L1042.6,1194.4 L1043.4,1197.3 L1044.3,1200.1 L1045.2,1202.9 L1046.2,1205.7 L1047.1,1208.4 L1048.0,1211.2 L1049.0,1214.0 L1050.0,1216.8 L1051.0,1219.5 L1052.0,1222.3 L1053.0,1225.1 L1054.0,1227.8 L1055.0,1230.6 L1056.1,1233.3 L1057.2,1236.1 L1058.2,1238.8 L1059.3,1241.5 L1060.4,1244.2 L1061.6,1247.0 L1062.7,1249.7 L1063.8,1252.4 L1065.0,1255.1 L1066.1,1257.8 L1067.3,1260.5 L1068.5,1263.2 L1069.7,1265.9 L1070.9,1268.5 L1072.1,1271.2 L1073.4,1273.9 L1074.6,1276.5 L1075.9,1279.2 L1077.1,1281.9 L1078.4,1284.5 L1079.7,1287.2 L1081.0,1289.8 L1082.3,1292.4 L1083.6,1295.1 L1084.9,1297.7 L1086.2,1300.3 L1087.6,1302.9 L1088.9,1305.5 L1090.3,1308.2 L1091.7,1310.8 L1093.0,1313.4 L1094.4,1316.0 L1095.8,1318.5 L1097.2,1321.1 L1098.6,1323.7 L1100.1,1326.3 L1101.5,1328.9 L1102.9,1331.4 L1104.4,1334.0 L1105.8,1336.5 L1107.3,1339.1 L1108.7,1341.6 L1110.2,1344.2 L1111.7,1346.7 L1113.2,1349.2 L1114.7,1351.8 L1116.2,1354.3 L1117.7,1356.8 L1119.2,1359.3 L1120.7,1361.8" stroke="#000" stroke-width="13.8"/>
<path d="M631.0,573.5 L838.0,574.5" stroke="#000" stroke-width="13"/>
<rect x="940.0" y="483.0" width="12.0" height="12.0" rx="3" fill="#000" stroke="none"/>
<rect x="752.0" y="601.0" width="30.0" height="18.0" rx="3" fill="#000" stroke="none"/>
<rect x="783.0" y="612.5" width="45.0" height="16.5" rx="3" fill="#000" stroke="none"/>
<rect x="872.0" y="661.0" width="12.0" height="11.0" rx="3" fill="#000" stroke="none"/>
<rect x="956.0" y="934.0" width="26.0" height="8.0" rx="3" fill="#000" stroke="none"/>
<rect x="981.0" y="427.0" width="11.0" height="9.0" rx="3" fill="#000" stroke="none"/>
<rect x="1005.0" y="396.0" width="11.0" height="11.0" rx="3" fill="#000" stroke="none"/>
<rect x="852.0" y="534.0" width="9.0" height="9.0" rx="3" fill="#000" stroke="none"/>
<rect x="1100.0" y="1340.0" width="17.0" height="11.0" rx="3" fill="#000" stroke="none"/>
</g>
<line x1="283.0" y1="482.0" x2="1183.0" y2="479.5" stroke="#111" stroke-width="2.4" stroke-dasharray="3.4,3.4" fill="none"/>
<line x1="278.0" y1="588.8" x2="1028.0" y2="597.5" stroke="#111" stroke-width="2.4" stroke-dasharray="3.4,3.4" fill="none"/>
<line x1="443.0" y1="1023.4" x2="1328.0" y2="1019.3" stroke="#111" stroke-width="2.4" stroke-dasharray="3.4,3.4" fill="none"/>
<line x1="921.2" y1="282.3" x2="921.2" y2="486.0" stroke="#111" stroke-width="2.4" stroke-dasharray="3.4,3.4" fill="none"/>
<line x1="1053.3" y1="832.0" x2="1053.3" y2="1351.0" stroke="#111" stroke-width="2.4" stroke-dasharray="3.4,3.4" fill="none"/>
<line x1="829.2" y1="296.9" x2="1054.0" y2="758.0" stroke="#111" stroke-width="2.4" stroke-dasharray="3.4,3.4" fill="none"/>
<line x1="838.8" y1="510.4" x2="990.5" y2="885.0" stroke="#111" stroke-width="2.4" stroke-dasharray="3.4,3.4" fill="none"/>
<line x1="862.5" y1="570.5" x2="983.0" y2="395.7" stroke="#111" stroke-width="2.4" stroke-dasharray="3.4,3.4" fill="none"/>
<line x1="796.5" y1="727.7" x2="1045.0" y2="372.0" stroke="#111" stroke-width="2.4" stroke-dasharray="3.4,3.4" fill="none"/>
<line x1="1014.6" y1="962.1" x2="1223" y2="1275" stroke="#222" stroke-width="1.9" stroke-dasharray="2.2,2.2"/>
<path d="M305.0,1365.0v-14 M339.9,1365.0v-14 M364.6,1365.0v-14 M383.8,1365.0v-14 M399.5,1365.0v-14 M412.8,1365.0v-14 M424.3,1365.0v-14 M434.4,1365.0v-14 M443.5,1365.0v-25 M503.2,1365.0v-14 M538.1,1365.0v-14 M562.8,1365.0v-14 M582.0,1365.0v-14 M597.7,1365.0v-14 M611.0,1365.0v-14 M622.5,1365.0v-14 M632.6,1365.0v-14 M641.7,1365.0v-25 M701.4,1365.0v-14 M736.3,1365.0v-14 M761.0,1365.0v-14 M780.2,1365.0v-14 M795.9,1365.0v-14 M809.2,1365.0v-14 M820.7,1365.0v-14 M830.8,1365.0v-14 M839.9,1365.0v-25 M899.6,1365.0v-14 M934.5,1365.0v-14 M959.2,1365.0v-14 M978.4,1365.0v-14 M994.1,1365.0v-14 M1007.4,1365.0v-14 M1018.9,1365.0v-14 M1029.0,1365.0v-14 M1038.1,1365.0v-25 M1097.8,1365.0v-14 M1132.7,1365.0v-14 M1157.4,1365.0v-14 M1176.6,1365.0v-14 M1192.3,1365.0v-14 M1205.6,1365.0v-14 M1217.1,1365.0v-14 M1227.2,1365.0v-14 M1236.3,1365.0v-25 M1296.0,1365.0v-14 M1330.9,1365.0v-14 M1355.6,1365.0v-14 M1374.8,1365.0v-14 M1390.5,1365.0v-14 M1403.8,1365.0v-14 M1415.3,1365.0v-14 M1425.4,1365.0v-14 M1434.5,1365.0v-25 M1494.2,1365.0v-14 M1529.1,1365.0v-14 M1553.8,1365.0v-14 M1573.0,1365.0v-14 M1588.7,1365.0v-14 M1602.0,1365.0v-14 M1613.5,1365.0v-14 M1623.6,1365.0v-14 M1632.7,1365.0v-25 M1692.4,1365.0v-14 M1727.3,1365.0v-14 M1752.0,1365.0v-14 M1771.2,1365.0v-14 M1786.9,1365.0v-14 M1800.2,1365.0v-14 M1811.7,1365.0v-14 M1821.8,1365.0v-14 M1830.9,1365.0v-25 M296.3,183.9h14 M296.3,291.2h25 M296.3,398.6h14 M296.3,506.0h25 M296.3,613.4h14 M296.3,720.8h25 M296.3,828.1h14 M296.3,935.5h25 M296.3,1042.9h14 M296.3,1150.2h25 M296.3,1257.6h14" stroke="#111" stroke-width="4.2" fill="none"/>
<line x1="841.2" y1="228.5" x2="993.1" y2="279.8" stroke="#111" stroke-width="2.4"/><polygon points="1013.0,286.5 982.2,284.0 987.0,269.8" fill="#111"/>
<line x1="534.9" y1="815.1" x2="727.4" y2="655.8" stroke="#111" stroke-width="2.4"/><polygon points="743.6,642.4 725.3,667.3 715.7,655.7" fill="#111"/>
<line x1="1287.0" y1="719.3" x2="1200.6" y2="596.8" stroke="#111" stroke-width="2.4"/><polygon points="1188.5,579.6 1211.9,599.8 1199.7,608.4" fill="#111"/>
<text x="150.5" y="97.0" font-size="77.5" textLength="117.5" lengthAdjust="spacingAndGlyphs" font-family="Liberation Serif, Times New Roman, serif" fill="#000">-0.3</text>
<text x="150.5" y="311.8" font-size="77.5" textLength="117.5" lengthAdjust="spacingAndGlyphs" font-family="Liberation Serif, Times New Roman, serif" fill="#000">-0.4</text>
<text x="150.5" y="526.5" font-size="77.5" textLength="117.5" lengthAdjust="spacingAndGlyphs" font-family="Liberation Serif, Times New Roman, serif" fill="#000">-0.5</text>
<text x="150.5" y="741.3" font-size="77.5" textLength="117.5" lengthAdjust="spacingAndGlyphs" font-family="Liberation Serif, Times New Roman, serif" fill="#000">-0.6</text>
<text x="150.5" y="956.0" font-size="77.5" textLength="117.5" lengthAdjust="spacingAndGlyphs" font-family="Liberation Serif, Times New Roman, serif" fill="#000">-0.7</text>
<text x="150.5" y="1170.8" font-size="77.5" textLength="117.5" lengthAdjust="spacingAndGlyphs" font-family="Liberation Serif, Times New Roman, serif" fill="#000">-0.8</text>
<text x="150.5" y="1385.5" font-size="77.5" textLength="117.5" lengthAdjust="spacingAndGlyphs" font-family="Liberation Serif, Times New Roman, serif" fill="#000">-0.9</text>
<text x="463.3" y="1462" font-size="76" text-anchor="end" textLength="74" lengthAdjust="spacingAndGlyphs" font-family="Liberation Serif, Times New Roman, serif" fill="#000">10</text>
<text x="460.5" y="1419.5" font-size="42" font-family="Liberation Serif, Times New Roman, serif" fill="#000">-8</text>
<text x="661.5" y="1462" font-size="76" text-anchor="end" textLength="74" lengthAdjust="spacingAndGlyphs" font-family="Liberation Serif, Times New Roman, serif" fill="#000">10</text>
<text x="658.7" y="1419.5" font-size="42" font-family="Liberation Serif, Times New Roman, serif" fill="#000">-7</text>
<text x="859.7" y="1462" font-size="76" text-anchor="end" textLength="74" lengthAdjust="spacingAndGlyphs" font-family="Liberation Serif, Times New Roman, serif" fill="#000">10</text>
<text x="856.9" y="1419.5" font-size="42" font-family="Liberation Serif, Times New Roman, serif" fill="#000">-6</text>
<text x="1057.9" y="1462" font-size="76" text-anchor="end" textLength="74" lengthAdjust="spacingAndGlyphs" font-family="Liberation Serif, Times New Roman, serif" fill="#000">10</text>
<text x="1055.1" y="1419.5" font-size="42" font-family="Liberation Serif, Times New Roman, serif" fill="#000">-5</text>
<text x="1256.1" y="1462" font-size="76" text-anchor="end" textLength="74" lengthAdjust="spacingAndGlyphs" font-family="Liberation Serif, Times New Roman, serif" fill="#000">10</text>
<text x="1253.3" y="1419.5" font-size="42" font-family="Liberation Serif, Times New Roman, serif" fill="#000">-4</text>
<text x="1454.3" y="1462" font-size="76" text-anchor="end" textLength="74" lengthAdjust="spacingAndGlyphs" font-family="Liberation Serif, Times New Roman, serif" fill="#000">10</text>
<text x="1451.5" y="1419.5" font-size="42" font-family="Liberation Serif, Times New Roman, serif" fill="#000">-3</text>
<text x="1652.5" y="1462" font-size="76" text-anchor="end" textLength="74" lengthAdjust="spacingAndGlyphs" font-family="Liberation Serif, Times New Roman, serif" fill="#000">10</text>
<text x="1649.7" y="1419.5" font-size="42" font-family="Liberation Serif, Times New Roman, serif" fill="#000">-2</text>
<text x="1850.7" y="1462" font-size="76" text-anchor="end" textLength="74" lengthAdjust="spacingAndGlyphs" font-family="Liberation Serif, Times New Roman, serif" fill="#000">10</text>
<text x="1847.9" y="1419.5" font-size="42" font-family="Liberation Serif, Times New Roman, serif" fill="#000">-1</text>
<text x="604" y="1609" font-size="96" font-family="Liberation Serif, Times New Roman, serif" fill="#000">Current Density/</text>
<text x="1245.5" y="1609" font-size="96" textLength="276" lengthAdjust="spacingAndGlyphs" font-family="Liberation Serif, Times New Roman, serif" fill="#000">mA·cm</text>
<text x="1525" y="1557" font-size="56" font-family="Liberation Serif, Times New Roman, serif" fill="#000">-2</text>
<text transform="translate(90.5,899.5) rotate(-90)" x="0" y="0" font-size="98.5" font-family="Liberation Serif, Times New Roman, serif" fill="#000">SCE / V</text>
<text x="398.8" y="208.5" font-size="96" font-family="Liberation Serif, Times New Roman, serif" fill="#000">6A machined</text>
<text x="334.3" y="880.7" font-size="95.5" font-family="Liberation Serif, Times New Roman, serif" fill="#000">12A machined</text>
<text x="1306" y="764.4" font-size="95.5" font-family="Liberation Serif, Times New Roman, serif" fill="#000">non-treated</text>
</svg></div></body></html>
